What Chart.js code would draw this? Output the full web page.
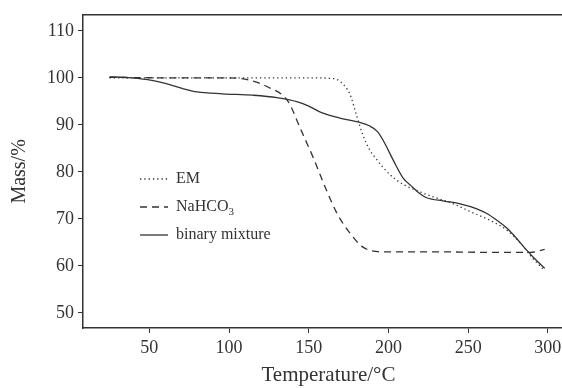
<!DOCTYPE html>
<html>
<head>
<meta charset="utf-8">
<script src="https://cdn.jsdelivr.net/npm/chart.js@4/dist/chart.umd.min.js"></script>
<style>
  html, body { margin: 0; padding: 0; background: #fff; overflow: hidden; }
  #wrap { width: 574px; height: 388px; }
</style>
</head>
<body>
<div id="wrap"><canvas id="tgChart" width="574" height="388"></canvas></div>
<script>
// TG curves (temperature in °C, mass in %)
const emTemp = [25, 60, 100, 150, 163, 168, 172, 176, 180, 184, 188, 192, 197, 203, 210, 218, 228, 240, 253, 265, 275, 283, 290, 298];
const emMass = [100, 100, 100, 100, 99.9, 99.6, 98.5, 96.4, 92, 87.8, 84.8, 82.9, 80.8, 78.8, 77.2, 76, 74.7, 73.3, 71.3, 69.5, 67.4, 64.8, 61.8, 59];

const naTemp = [25, 60, 100, 113, 124, 137, 145, 153, 161, 168, 176, 184, 192, 200, 230, 260, 289, 298];
const naMass = [100.1, 100, 100, 99.5, 98.1, 95, 89, 82.9, 76.2, 71, 66.9, 64, 63.1, 63, 63, 62.9, 62.9, 63.5];

const bmTemp = [25, 35, 49, 60, 70, 80, 96, 115, 130, 143, 150, 158, 170, 182, 188, 193, 197, 203, 209, 215, 220, 224, 235, 245, 255, 262, 268, 274, 280, 285, 291, 298];
const bmMass = [100.2, 100.1, 99.6, 98.8, 97.8, 97, 96.6, 96.3, 95.8, 94.9, 94, 92.6, 91.4, 90.5, 89.8, 88.6, 86.5, 82.5, 78.8, 76.8, 75.3, 74.5, 73.8, 73.2, 72.2, 71.1, 69.7, 68.1, 66, 64, 61.8, 59.5];

const xTicks = [50, 100, 150, 200, 250, 300];
const yTicks = [50, 60, 70, 80, 90, 100, 110];

const seriesNames = ['EM', 'NaHCO3', 'binary mixture'];

const ink = '#333';
const serif = "'Liberation Serif', 'Times New Roman', serif";

function toPoints(xs, ys) {
  return xs.map((x, i) => ({ x: x, y: ys[i] }));
}

// top frame line + in-plot legend (the figure has its legend inside the axes)
const framePlugin = {
  id: 'frame',
  afterDraw(chart) {
    const c = chart.ctx;
    const a = chart.chartArea;
    c.save();
    c.strokeStyle = ink;
    c.lineWidth = 1.5;
    c.beginPath();
    c.moveTo(a.left, a.top);
    c.lineTo(a.right, a.top);
    c.stroke();

    const rows = [179, 207, 235];
    c.font = '16px ' + serif;
    c.fillStyle = ink;
    c.textBaseline = 'middle';
    chart.data.datasets.forEach((ds, i) => {
      const y = rows[i];
      c.strokeStyle = ink;
      c.lineWidth = 1.3;
      c.setLineDash(ds.borderDash || []);
      c.beginPath();
      c.moveTo(140, y);
      c.lineTo(168, y);
      c.stroke();
      c.setLineDash([]);
      if (ds.label === 'NaHCO3') {
        c.fillText('NaHCO', 176, y);
        const w = c.measureText('NaHCO').width;
        c.font = '11px ' + serif;
        c.fillText('3', 176 + w, y + 5);
        c.font = '16px ' + serif;
      } else {
        c.fillText(ds.label, 176, y);
      }
    });
    c.restore();
  }
};

const lineStyle = {
  borderColor: ink,
  borderWidth: 1.3,
  pointRadius: 0,
  fill: false,
  cubicInterpolationMode: 'monotone'
};

new Chart(document.getElementById('tgChart'), {
  type: 'line',
  data: {
    datasets: [
      Object.assign({ label: seriesNames[0], data: toPoints(emTemp, emMass), borderDash: [1.3, 3] }, lineStyle),
      Object.assign({ label: seriesNames[1], data: toPoints(naTemp, naMass), borderDash: [7, 5] }, lineStyle),
      Object.assign({ label: seriesNames[2], data: toPoints(bmTemp, bmMass) }, lineStyle)
    ]
  },
  options: {
    responsive: false,
    animation: false,
    layout: { padding: { top: 12, right: 0, left: 0, bottom: 0 } },
    plugins: {
      legend: { display: false },
      tooltip: { enabled: false }
    },
    scales: {
      x: {
        type: 'linear',
        min: 8.4,
        max: 316.4,
        afterBuildTicks: axis => { axis.ticks = xTicks.map(v => ({ value: v })); },
        afterFit: axis => { axis.height = 60; },
        border: { display: true, color: ink, width: 1.5 },
        grid: { drawOnChartArea: false, drawTicks: true, tickLength: 5, color: ink },
        ticks: { color: ink, font: { family: serif, size: 18 }, padding: 4, maxRotation: 0 },
        title: {
          display: true,
          text: 'Temperature/°C',
          color: ink,
          font: { family: serif, size: 21 },
          padding: { top: 0, bottom: 0 }
        }
      },
      y: {
        min: 46.8,
        max: 113.4,
        afterBuildTicks: axis => { axis.ticks = yTicks.map(v => ({ value: v })); },
        afterFit: axis => { axis.width = 83; },
        border: { display: true, color: ink, width: 1.5 },
        grid: { drawOnChartArea: false, drawTicks: true, tickLength: 5, color: ink },
        ticks: { color: ink, font: { family: serif, size: 18 }, padding: 4 },
        title: {
          display: true,
          text: 'Mass/%',
          color: ink,
          font: { family: serif, size: 20 },
          padding: { top: 8, bottom: 0 }
        }
      }
    }
  },
  plugins: [framePlugin]
});
</script>
</body>
</html>
